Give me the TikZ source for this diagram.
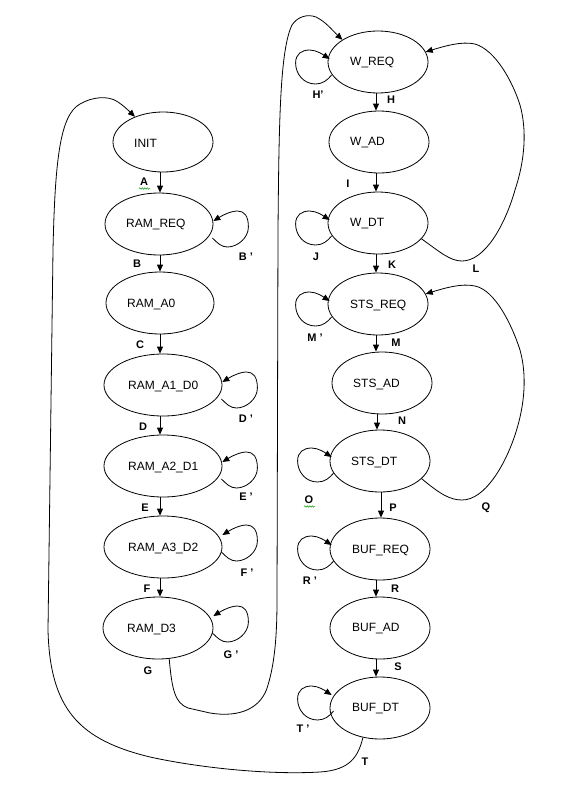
\documentclass[tikz,border=0pt]{standalone}
\usepackage{fontspec}
\setmainfont{Liberation Sans}
\usetikzlibrary{shapes.geometric,arrows.meta,decorations.pathmorphing}
\newcommand{\myRloop}[2]{\draw[arr,shift={(#1.east)},shift={(0,#2)}] (-1,14) .. controls (4,19) and (8,23) .. (14,23) .. controls (24,23) and (35,14) .. (35,3) .. controls (35,-8) and (31,-13) .. (24,-13) .. controls (17,-13) and (8,-8) .. (0,-3);}
\newcommand{\myLloop}[2]{\draw[arr,shift={(#1.west)},shift={(0,#2)}] (4,13) .. controls (0,18) and (-5,22) .. (-12,22) .. controls (-24,22) and (-32,12) .. (-32,1) .. controls (-32,-8) and (-26,-12) .. (-18,-12) .. controls (-11,-12) and (-4,-7) .. (2,-3);}
\begin{document}
\begin{tikzpicture}[x=1pt,y=-1pt,
  st/.style={ellipse,draw,line width=0.8pt,inner sep=0pt,minimum height=62pt},
  txt/.style={anchor=west,inner sep=0pt,font=\fontsize{12}{14}\selectfont},
  lbl/.style={inner sep=0pt,font=\fontsize{11}{13}\selectfont\bfseries},
  arr/.style={line width=0.8pt,-{Triangle[length=7pt,width=6pt]}},
  con/.style={line width=0.8pt},
  squig/.style={draw=green!60!black,line width=0.5pt,decorate,decoration={snake,amplitude=0.7pt,segment length=2.5pt}}
]
\useasboundingbox (0,0) rectangle (571,787);

% left column
\node[st,minimum width=100pt,minimum height=60pt] (init) at (163,142) {};
\node[txt] (tinit) at (134,143) {INIT};
\node[st,minimum width=108pt] (ramreq) at (159,224) {};
\node[txt] (tramreq) at (126,225) {RAM\_REQ};
\node[st,minimum width=108pt] (rama0) at (160,303) {};
\node[txt] (trama0) at (127,304) {RAM\_A0};
\node[st,minimum width=118pt] (rama1) at (163,385) {};
\node[txt] (trama1) at (128,386) {RAM\_A1\_D0};
\node[st,minimum width=118pt] (rama2) at (163,466) {};
\node[txt] (trama2) at (128,467) {RAM\_A2\_D1};
\node[st,minimum width=118pt] (rama3) at (163,547) {};
\node[txt] (trama3) at (128,548) {RAM\_A3\_D2};
\node[st,minimum width=110pt] (ramd3) at (158,628) {};
\node[txt] (tramd3) at (127,629) {RAM\_D3};

% right column
\node[st,minimum width=100pt] (wreq) at (378,62) {};
\node[txt] (twreq) at (350,63) {W\_REQ};
\node[st,minimum width=100pt] (wad) at (379,142) {};
\node[txt] (twad) at (350,143) {W\_AD};
\node[st,minimum width=100pt] (wdt) at (378,223) {};
\node[txt] (twdt) at (350,224) {W\_DT};
\node[st,minimum width=100pt] (stsreq) at (378,304) {};
\node[txt] (tstsreq) at (350,305) {STS\_REQ};
\node[st,minimum width=100pt] (stsad) at (382,383) {};
\node[txt] (tstsad) at (353,384) {STS\_AD};
\node[st,minimum width=100pt] (stsdt) at (380,461) {};
\node[txt] (tstsdt) at (351,462) {STS\_DT};
\node[st,minimum width=100pt] (bufreq) at (380,549) {};
\node[txt] (tbufreq) at (352,550) {BUF\_REQ};
\node[st,minimum width=100pt] (bufad) at (380,628) {};
\node[txt] (tbufad) at (352,629) {BUF\_AD};
\node[st,minimum width=100pt] (bufdt) at (380,708) {};
\node[txt] (tbufdt) at (352,709) {BUF\_DT};

% vertical arrows
\coordinate (lx) at (160,0);
\coordinate (rx) at (376,0);
\coordinate (rx2) at (377,0);
\coordinate (rx3) at (381,0);
\draw[arr] (lx |- init.south) -- (lx |- ramreq.north);
\draw[arr] (lx |- ramreq.south) -- (lx |- rama0.north);
\draw[arr] (lx |- rama0.south) -- (lx |- rama1.north);
\draw[arr] (lx |- rama1.south) -- (lx |- rama2.north);
\draw[arr] (lx |- rama2.south) -- (lx |- rama3.north);
\draw[arr] (lx |- rama3.south) -- (lx |- ramd3.north);
\draw[arr] (rx |- wreq.south) -- (rx |- wad.north);
\draw[arr] (rx |- wad.south) -- (rx |- wdt.north);
\draw[arr] (rx |- wdt.south) -- (rx |- stsreq.north);
\draw[arr] (rx |- stsreq.south) -- (rx |- stsad.north);
\draw[arr] (rx2 |- stsad.south) -- (rx2 |- stsdt.north);
\draw[arr] (rx3 |- stsdt.south) -- (rx3 |- bufreq.north);
\draw[arr] (rx |- bufreq.south) -- (rx |- bufad.north);
\draw[arr] (rx |- bufad.south) -- (rx |- bufdt.north);

% self loops
\myRloop{ramreq}{0}
\myRloop{rama1}{0}
\myRloop{rama2}{-1}
\myRloop{rama3}{-9}
\myRloop{ramd3}{-9}
\myLloop{wreq}{0}
\myLloop{wdt}{0}
\myLloop{stsreq}{0}
\myLloop{stsdt}{-1}
\myLloop{bufreq}{-1}
\myLloop{bufdt}{-10}

% G: RAM_D3 -> W_REQ
\draw[arr] (ramd3.-70) .. controls (172,690) and (175,703) .. (188,708)
  -- (210,713) .. controls (240,718) and (262,708) .. (268,685)
  .. controls (274,665) and (277,640) .. (277,600)
  -- (278,230) .. controls (279,120) and (280,50) .. (292,25)
  .. controls (298,16) and (308,14) .. (316,17)
  .. controls (326,22) and (332,30) .. (wreq.148);

% T: BUF_DT -> INIT
\draw[arr] (bufdt.-120) .. controls (358,757) and (350,770) .. (320,772)
  .. controls (270,775) and (200,768) .. (150,757)
  .. controls (80,740) and (50,710) .. (48,630)
  -- (53,250) .. controls (55,160) and (60,115) .. (80,104)
  .. controls (92,97) and (108,95) .. (118,102)
  .. controls (124,106) and (129,111) .. (init.138);

% L: W_DT -> W_REQ
\draw[arr] (wdt.-20) .. controls (440,252) and (450,261) .. (462,261)
  .. controls (485,261) and (505,225) .. (515,190)
  .. controls (525,160) and (527,130) .. (520,105)
  .. controls (512,80) and (495,50) .. (475,44)
  .. controls (462,41) and (445,46) .. (wreq.12);

% Q: STS_DT -> STS_REQ
\draw[arr] (stsdt.-23) .. controls (440,494) and (450,500) .. (462,500)
  .. controls (485,500) and (505,465) .. (515,435)
  .. controls (525,405) and (527,375) .. (520,350)
  .. controls (512,325) and (495,290) .. (475,286)
  .. controls (462,283) and (445,288) .. (stsreq.12);

% labels
\node[lbl] (lA) at (144,182) {A};
\node[lbl] (lBp) at (246,257) {B '};
\node[lbl] (lB) at (137,264) {B};
\node[lbl] (lC) at (140,345) {C};
\node[lbl] (lD) at (143,427) {D};
\node[lbl] (lDp) at (246,419) {D '};
\node[lbl] (lEp) at (246,497) {E '};
\node[lbl] (lE) at (145,508) {E};
\node[lbl] (lFp) at (247,573) {F '};
\node[lbl] (lF) at (147,589) {F};
\node[lbl] (lGp) at (231,655) {G '};
\node[lbl] (lG) at (148,671) {G};
\node[lbl] (lHp) at (318,95) {H'};
\node[lbl] (lH) at (391,100) {H};
\node[lbl] (lI) at (348,184) {I};
\node[lbl] (lJ) at (316,257) {J};
\node[lbl] (lK) at (392,265) {K};
\node[lbl] (lL) at (476,269) {L};
\node[lbl] (lMp) at (315,338) {M '};
\node[lbl] (lM) at (396,343) {M};
\node[lbl] (lN) at (402,421) {N};
\node[lbl] (lO) at (309,500) {O};
\node[lbl] (lP) at (393,508) {P};
\node[lbl] (lQ) at (486,508) {Q};
\node[lbl] (lRp) at (310,581) {R '};
\node[lbl] (lR) at (395,589) {R};
\node[lbl] (lS) at (398,667) {S};
\node[lbl] (lTp) at (303,729) {T '};
\node[lbl] (lT) at (365,762) {T};

% spell-check squiggles
\draw[squig] (139,188.5) -- (150,188.5);
\draw[squig] (304,506.5) -- (315,506.5);
\end{tikzpicture}
\end{document}
